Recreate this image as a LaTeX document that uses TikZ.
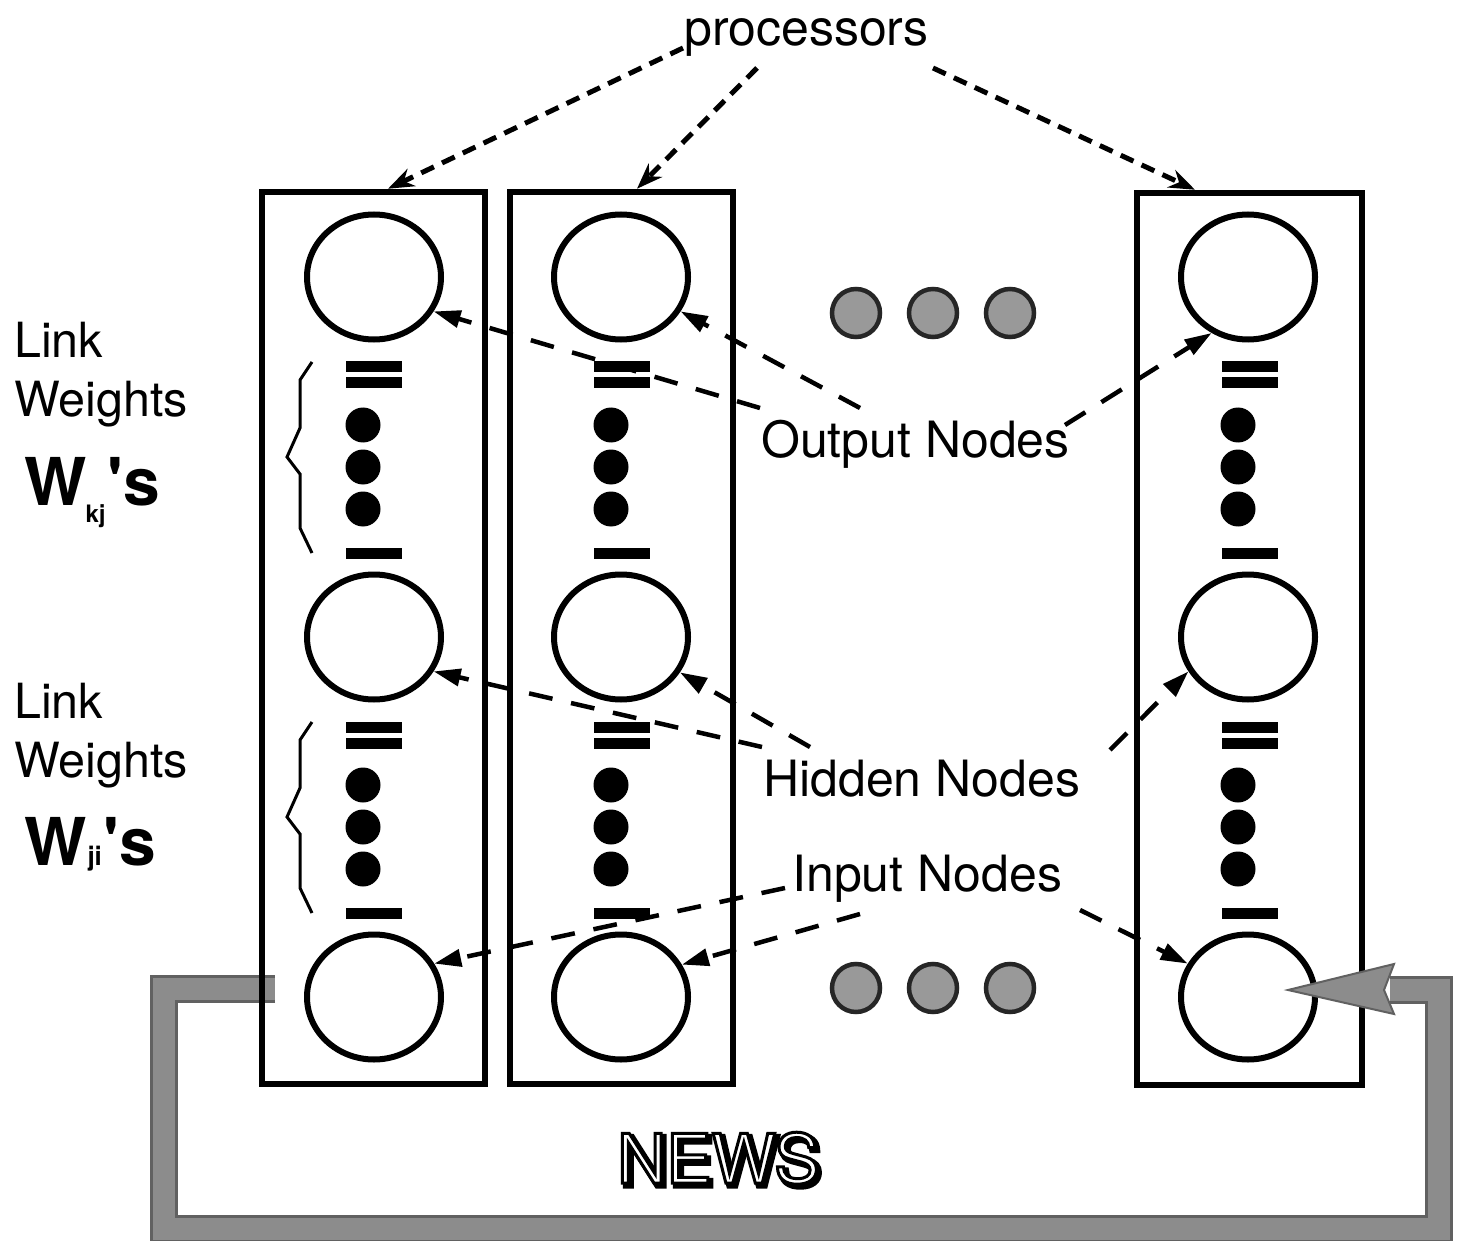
\documentclass[tikz,border=0pt]{standalone}
\usepackage{fontspec}
\setmainfont{TeX Gyre Heros}
\usetikzlibrary{shapes.geometric,arrows.meta,calc}
\newcommand\unitstack[4]{% #1 bar x, #2 dot x, #3 y offset, #4 name prefix
  \node[bar] (#4a) at (#1,367+#3) {};
  \node[bar] (#4b) at (#1,383+#3) {};
  \node[bdot] (#4c) at (#2,425+#3) {};
  \node[bdot] (#4d) at (#2,467+#3) {};
  \node[bdot] (#4e) at (#2,509+#3) {};
  \node[bar] (#4f) at (#1,553+#3) {};
}
\begin{document}
\begin{tikzpicture}[x=1pt,y=-1pt,
  procbox/.style={draw,line width=6.5pt,rectangle,minimum width=223pt,minimum height=892pt,inner sep=0pt},
  unit/.style={draw,line width=6pt,ellipse,minimum width=134pt,minimum height=125pt,inner sep=0pt},
  bar/.style={fill=black,draw=none,rectangle,minimum width=56pt,minimum height=11pt,inner sep=0pt},
  bdot/.style={fill=black,circle,minimum size=35pt,inner sep=0pt},
  gdot/.style={fill=black!40,draw=black!85,line width=4.5pt,circle,minimum size=48pt,inner sep=0pt},
  lbl/.style={font=\fontsize{50}{60}\selectfont,inner sep=0pt,anchor=base west},
  side/.style={font=\fontsize{48.5}{56}\selectfont,inner sep=0pt,anchor=base west},
  wlab/.style={font=\fontsize{66}{70}\selectfont\bfseries,inner sep=0pt,anchor=base west},
  newsf/.style={font=\fontsize{68}{70}\selectfont,inner sep=0pt,anchor=base west},
  ptr/.style={dash pattern=on 24pt off 19pt,line width=4.5pt,-{Triangle[length=27pt,width=17pt]}},
  proc/.style={dash pattern=on 14pt off 9pt,line width=5pt,-{Stealth[length=26pt,width=19pt]}},
  zig/.style={line width=3pt},
  busout/.style={line width=28pt,draw=black!62},
  busin/.style={line width=22pt,draw=black!45}
]
\useasboundingbox (0,0) rectangle (1460,1241);
\fill[white] (0,0) rectangle (1460,1241);

% NEWS bus
\draw[busout] (275,989) -- (164,989) -- (164,1229) -- (1439,1229) -- (1439,990) -- (1390,990);
\draw[busin] (275,989) -- (164,989) -- (164,1229) -- (1439,1229) -- (1439,990) -- (1390,990);

% processor boxes
\node[procbox] (b1) at (373.5,638) {};
\node[procbox] (b2) at (621.5,638) {};
\node[procbox,minimum width=225pt] (b3) at (1249.5,639) {};

% units
\node[unit] (c11) at (374,277) {};
\node[unit] (c12) at (374,637) {};
\node[unit] (c13) at (374,997) {};
\node[unit] (c21) at (621,277) {};
\node[unit] (c22) at (621,637) {};
\node[unit] (c23) at (621,997) {};
\node[unit] (c31) at (1248,277) {};
\node[unit] (c32) at (1248,637) {};
\node[unit] (c33) at (1248,997) {};

% link weight stacks
\unitstack{374}{363}{0}{s1u}
\unitstack{374}{363}{360}{s1l}
\unitstack{622}{611}{0}{s2u}
\unitstack{622}{611}{360}{s2l}
\unitstack{1250}{1238}{0}{s3u}
\unitstack{1250}{1238}{360}{s3l}

% grey ellipsis dots
\node[gdot] (g1) at (856,313) {};
\node[gdot] (g2) at (933,313) {};
\node[gdot] (g3) at (1010,313) {};
\node[gdot] (g4) at (856,988) {};
\node[gdot] (g5) at (933,988) {};
\node[gdot] (g6) at (1010,988) {};

% bus arrow head
\filldraw[fill=black!45,draw=black!62,line width=2pt,line join=miter]
  (1288,990) -- (1394,964) -- (1384,990) -- (1394,1014) -- cycle;

% braces
\draw[zig] (312,362) -- (300,380) -- (300,428) -- (287,457) -- (300,474) -- (300,528) -- (312,553);
\draw[zig] (312,722) -- (300,740) -- (300,788) -- (287,817) -- (300,834) -- (300,888) -- (312,913);

% labels
\node[lbl] (proc) at (684,46) {processors};
\node[lbl] (out) at (761,457) {Output Nodes};
\node[lbl] (hid) at (763,796) {Hidden Nodes};
\node[lbl] (inp) at (792,891) {Input Nodes};

\node[side] (lk1) at (14,358) {Link};
\node[side] (wt1) at (14,417) {Weights};
\node[wlab] (wk) at (24,505) {W\hspace{-1pt}\raisebox{-17pt}{\fontsize{24}{24}\selectfont kj}\hspace{2pt}\textquotesingle s};
\node[side] (lk2) at (14,718) {Link};
\node[side] (wt2) at (14,777) {Weights};
\node[wlab] (wj) at (24,865) {W\hspace{1pt}{\fontsize{26}{26}\selectfont ji}\hspace{2pt}\textquotesingle s};

% NEWS outlined text with shadow
\node[newsf,text=black] (newsshadow) at (620,1186) {\special{pdf:literal direct 2 Tr 5 w 0 G}NEWS\special{pdf:literal direct 0 Tr}};
\node[newsf,text=white] (news) at (617,1183) {\special{pdf:literal direct 2 Tr 3 w 0 G}NEWS\special{pdf:literal direct 0 Tr}};

% free ends of pointers
\coordinate (p1s) at (683,48);
\coordinate (p2s) at (757,68);
\coordinate (p3s) at (933,68);
\coordinate (o1s) at (760,408);
\coordinate (o2s) at (860,408);
\coordinate (o3s) at (1065,425);
\coordinate (h1s) at (762,747);
\coordinate (h2s) at (810,747);
\coordinate (h3s) at (1110,750);
\coordinate (i1s) at (785,888);
\coordinate (i2s) at (860,914);
\coordinate (i3s) at (1080,910);

% processor pointers
\draw[proc] (p1s) -- (388,0 |- b1.north);
\draw[proc] (p2s) -- (637,0 |- b2.north);
\draw[proc] (p3s) -- (1195,0 |- b3.north);

% node pointers
\draw[ptr] (o1s) -- (c11.-30);
\draw[ptr] (o2s) -- (c21.-30);
\draw[ptr] (o3s) -- (c31.-123);
\draw[ptr] (h1s) -- (c12.-30);
\draw[ptr] (h2s) -- (c22.-31);
\draw[ptr] (h3s) -- (c32.-150);
\draw[ptr] (i1s) -- (c13.29);
\draw[ptr] (i2s) -- (c23.28);
\draw[ptr] (i3s) -- (c33.151);
\end{tikzpicture}
\end{document}
